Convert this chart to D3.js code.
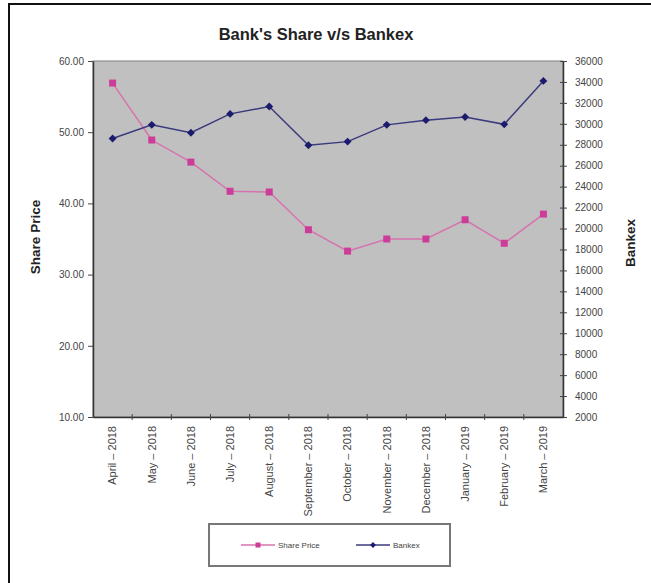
<!DOCTYPE html>
<html>
<head>
<meta charset="utf-8">
<script src="https://cdn.jsdelivr.net/npm/d3@7"></script>
<style>
  body { margin: 0; background: #fff; }
  text { font-family: "Liberation Sans", Arial, sans-serif; }
</style>
</head>
<body>
<div id="chart"></div>
<script>
//Chart data
var months = ["April \u2013 2018", "May \u2013 2018", "June \u2013 2018", "July \u2013 2018", "August \u2013 2018", "September \u2013 2018",
    "October \u2013 2018", "November \u2013 2018", "December \u2013 2018", "January \u2013 2019", "February \u2013 2019", "March \u2013 2019"];
var sharePrice = [56.9, 48.9, 45.8, 41.7, 41.6, 36.3, 33.3, 35.0, 35.0, 37.7, 34.4, 38.5];
var bankex = [28600, 29900, 29150, 30950, 31650, 27950, 28300, 29900, 30350, 30650, 29950, 34100];
var leftTicks = [10, 20, 30, 40, 50, 60];
var rightTicks = d3.range(2000, 36001, 2000);

var W = 651, H = 583;
var plot = {left: 93, right: 563, top: 61, bottom: 417};

var pink = "#cc3d99", pinkLine = "#d772ae";
var navy = "#1c1c6e", navyLine = "#3a3a7e";

var svg = d3.select("#chart")
    .append("svg")
    .attr("width", W)
    .attr("height", H);

//Outer frame
svg.append("rect")
    .attr("x", 9).attr("y", 4)
    .attr("width", W).attr("height", H)
    .attr("fill", "#fff")
    .attr("stroke", "#111")
    .attr("stroke-width", 2);

//Scales
var x = d3.scaleBand()
    .domain(months)
    .range([plot.left, plot.right]);

var yL = d3.scaleLinear()
    .domain([10, 60])
    .range([plot.bottom, plot.top]);

var yR = d3.scaleLinear()
    .domain([2000, 36000])
    .range([plot.bottom, plot.top]);

//Plot area
svg.append("rect")
    .attr("x", plot.left)
    .attr("y", plot.top)
    .attr("width", plot.right - plot.left)
    .attr("height", plot.bottom - plot.top)
    .attr("fill", "#c0c0c0")
    .attr("stroke", "#808080")
    .attr("stroke-width", 1);

//Title
svg.append("text")
    .attr("x", 316)
    .attr("y", 40)
    .attr("text-anchor", "middle")
    .style("font-size", "16.5px")
    .style("font-weight", "bold")
    .attr("fill", "#222")
    .text("Bank's Share v/s Bankex");

//Left axis
var leftAxis = svg.append("g")
    .attr("transform", "translate(" + plot.left + ",0)")
    .call(d3.axisLeft(yL)
        .tickValues(leftTicks)
        .tickFormat(d3.format(".2f"))
        .tickSize(5)
        .tickSizeOuter(0));

//Right axis
var rightAxis = svg.append("g")
    .attr("transform", "translate(" + plot.right + ",0)")
    .call(d3.axisRight(yR)
        .tickValues(rightTicks)
        .tickFormat(d3.format("d"))
        .tickSize(4)
        .tickSizeOuter(0));
rightAxis.selectAll(".tick line").attr("x1", -3);

//Bottom axis with ticks between categories
var bottomAxis = svg.append("g")
    .attr("transform", "translate(0," + plot.bottom + ")")
    .call(d3.axisBottom(x).tickSize(0).tickSizeOuter(0));
bottomAxis.selectAll(".tick line").remove();
bottomAxis.selectAll(".between")
    .data(months.slice(1))
    .enter()
    .append("line")
    .attr("x1", d => x(d))
    .attr("x2", d => x(d))
    .attr("y1", -3)
    .attr("y2", 3)
    .attr("stroke", "#444");

[leftAxis, rightAxis, bottomAxis].forEach(function(g) {
    g.selectAll(".domain").attr("stroke", "#333").attr("stroke-width", 1.5);
    g.selectAll(".tick line").attr("stroke", "#444");
    g.selectAll("text")
        .style("font-size", "10px")
        .style("font-family", "'Liberation Sans', Arial, sans-serif")
        .attr("fill", "#444");
});
leftAxis.selectAll("text").attr("x", -9);
rightAxis.selectAll("text").attr("x", 12);

bottomAxis.selectAll(".tick text")
    .attr("transform", "rotate(-90)")
    .attr("text-anchor", "end")
    .attr("x", -9)
    .attr("y", 0)
    .attr("dy", "0.35em")
    .style("font-size", "11px");

//Axis titles
svg.append("text")
    .attr("transform", "translate(40,237) rotate(-90)")
    .attr("text-anchor", "middle")
    .style("font-size", "13.5px")
    .style("font-weight", "bold")
    .attr("fill", "#222")
    .text("Share Price");

svg.append("text")
    .attr("transform", "translate(635,243) rotate(-90)")
    .attr("text-anchor", "middle")
    .style("font-size", "13.5px")
    .style("font-weight", "bold")
    .attr("fill", "#222")
    .text("Bankex");

var cx = function(i) { return x(months[i]) + x.bandwidth() / 2; };

//Share price line
svg.append("path")
    .datum(sharePrice)
    .attr("fill", "none")
    .attr("stroke", pinkLine)
    .attr("stroke-width", 1.5)
    .attr("d", d3.line().x((d, i) => cx(i)).y(d => yL(d)));

svg.selectAll(".sq")
    .data(sharePrice)
    .enter()
    .append("rect")
    .attr("x", (d, i) => cx(i) - 3.5)
    .attr("y", d => yL(d) - 3.5)
    .attr("width", 7)
    .attr("height", 7)
    .attr("fill", pink);

//Bankex line
svg.append("path")
    .datum(bankex)
    .attr("fill", "none")
    .attr("stroke", navyLine)
    .attr("stroke-width", 1.5)
    .attr("d", d3.line().x((d, i) => cx(i)).y(d => yR(d)));

var diamond = d3.symbol().type(d3.symbolDiamond2).size(40);
svg.selectAll(".dia")
    .data(bankex)
    .enter()
    .append("path")
    .attr("d", diamond)
    .attr("transform", (d, i) => "translate(" + cx(i) + "," + yR(d) + ")")
    .attr("fill", navy);

//Legend
var legend = svg.append("g");
legend.append("rect")
    .attr("x", 209).attr("y", 524)
    .attr("width", 241).attr("height", 42)
    .attr("fill", "#fff")
    .attr("stroke", "#777")
    .attr("stroke-width", 2);

var items = [
    {name: "Share Price", x: 241, line: pinkLine, fill: pink, shape: "sq"},
    {name: "Bankex", x: 356, line: navyLine, fill: navy, shape: "dia"}
];
items.forEach(function(it) {
    var g = legend.append("g").attr("transform", "translate(" + it.x + ",545)");
    g.append("line")
        .attr("x1", 0).attr("x2", 34)
        .attr("stroke", it.line)
        .attr("stroke-width", 1.5);
    if (it.shape == "sq") {
        g.append("rect").attr("x", 14.5).attr("y", -2.5).attr("width", 5).attr("height", 5).attr("fill", it.fill);
    } else {
        g.append("path").attr("d", d3.symbol().type(d3.symbolDiamond2).size(22)).attr("transform", "translate(17,0)").attr("fill", it.fill);
    }
    g.append("text")
        .attr("x", 37)
        .attr("dy", "0.35em")
        .style("font-size", "8px")
        .attr("fill", "#444")
        .text(it.name);
});
</script>
</body>
</html>
